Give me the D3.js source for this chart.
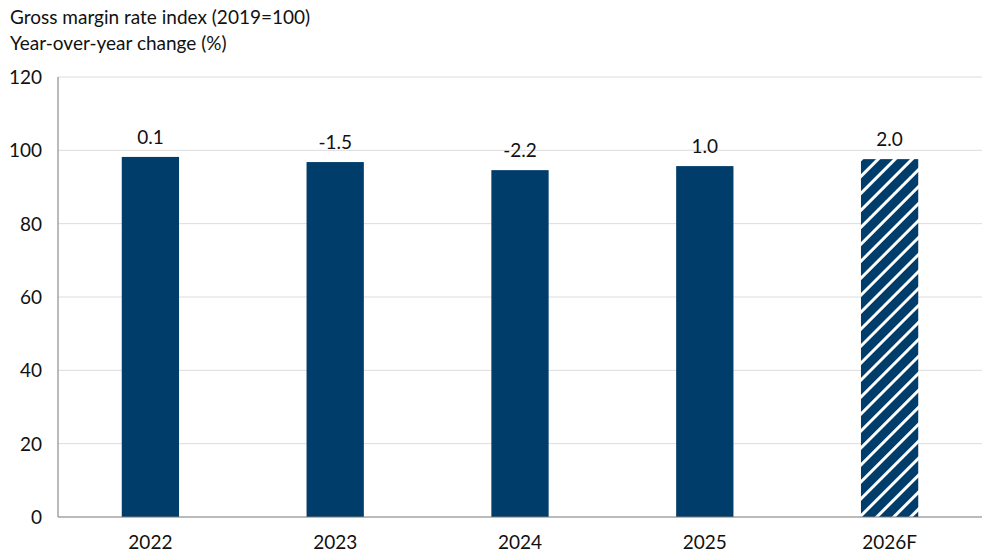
<!DOCTYPE html>
<html><head><meta charset="utf-8">
<script src="https://cdn.jsdelivr.net/npm/d3@7"></script>
<style>body{margin:0;background:#fff;font-family:Lato,"Open Sans",sans-serif;}</style>
</head><body><svg id="chart" width="992" height="558"></svg>
<script>
// Gross margin rate index with YoY change labels
const categories = ['2022', '2023', '2024', '2025', '2026F'];
const indexValues = [98.2, 96.8, 94.6, 95.7, 97.6];
const yoyLabels = ['0.1', '-1.5', '-2.2', '1.0', '2.0'];
const forecast = [false, false, false, false, true];
const yTicks = [0, 20, 40, 60, 80, 100, 120];

const svg = d3.select('#chart');
const m = {left: 58, right: 10, top: 77, bottom: 41};
const W = 992, H = 558;

const x = d3.scaleBand().domain(categories).range([m.left, W - m.right]).paddingInner(0.69).paddingOuter(0.345);
const y = d3.scaleLinear().domain([0, 120]).range([H - m.bottom, m.top]);

const defs = svg.append('defs');
const pat = defs.append('pattern').attr('id', 'hatch').attr('patternUnits', 'userSpaceOnUse')
    .attr('width', 12).attr('height', 12).attr('patternTransform', 'rotate(45)');
pat.append('rect').attr('width', 12).attr('height', 12).attr('fill', '#003d6b');
pat.append('rect').attr('x', 0).attr('width', 3).attr('height', 12).attr('fill', '#fff');

// gridlines
svg.append('g').selectAll('line').data(yTicks.filter(t => t > 0)).join('line')
    .attr('x1', m.left).attr('x2', W - m.right)
    .attr('y1', d => y(d)).attr('y2', d => y(d))
    .attr('stroke', '#dcdcdc');

// y labels
svg.append('g').selectAll('text').data(yTicks).join('text')
    .attr('x', 42).attr('y', d => y(d) + 7).attr('text-anchor', 'end')
    .attr('font-size', 19).attr('fill', '#111').text(d => d);

// bars
svg.append('g').selectAll('rect').data(categories).join('rect')
    .attr('x', d => x(d)).attr('width', x.bandwidth())
    .attr('y', (d, i) => y(indexValues[i]))
    .attr('height', (d, i) => y(0) - y(indexValues[i]))
    .attr('fill', (d, i) => forecast[i] ? 'url(#hatch)' : '#003d6b');

// value labels
svg.append('g').selectAll('text').data(categories).join('text')
    .attr('x', d => x(d) + x.bandwidth() / 2)
    .attr('y', (d, i) => y(indexValues[i]) - 13)
    .attr('text-anchor', 'middle').attr('font-size', 19).attr('fill', '#111')
    .text((d, i) => yoyLabels[i]);

// axes lines
svg.append('line').attr('x1', m.left).attr('x2', m.left).attr('y1', y(120)).attr('y2', y(0)).attr('stroke', '#777');
svg.append('line').attr('x1', m.left).attr('x2', W - m.right).attr('y1', y(0)).attr('y2', y(0)).attr('stroke', '#777');

// x labels
svg.append('g').selectAll('text').data(categories).join('text')
    .attr('x', d => x(d) + x.bandwidth() / 2).attr('y', H - 9)
    .attr('text-anchor', 'middle').attr('font-size', 19).attr('fill', '#111').text(d => d);

// titles
svg.append('text').attr('x', 10).attr('y', 24).attr('font-size', 19).attr('fill', '#111').text('Gross margin rate index (2019=100)');
svg.append('text').attr('x', 10).attr('y', 50).attr('font-size', 19).attr('fill', '#111').text('Year-over-year change (%)');
</script></body></html>
